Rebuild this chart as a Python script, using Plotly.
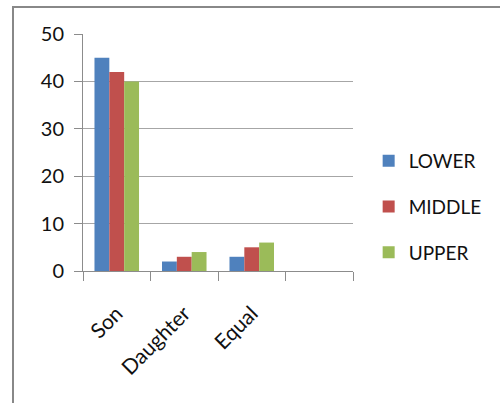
import plotly.graph_objects as go

# Survey answers by social class
categories = ["Son", "Daughter", "Equal", " "]
lower = [45, 2, 3, None]
middle = [42, 3, 5, None]
upper = [40, 4, 6, None]

series = [
    ("LOWER", lower, "#4F81BD"),
    ("MIDDLE", middle, "#C0504D"),
    ("UPPER", upper, "#9BBB59"),
]

W, H = 500, 403
ML, MR, MT, MB = 83, 147, 34, 132
pw, ph = W - ML - MR, H - MT - MB

fig = go.Figure()
for name, vals, color in series:
    fig.add_trace(go.Bar(
        x=categories, y=vals, name=name,
        marker=dict(color=color, line=dict(width=0)),
        legendgroup=name,
    ))

axis_color = "#8c8c8c"
font_family = "Lato, Open Sans, sans-serif"
text_color = "#111111"

fig.update_layout(
    width=W, height=H,
    margin=dict(l=ML, r=MR, t=MT, b=MB),
    paper_bgcolor="white", plot_bgcolor="white",
    barmode="group", bargap=0.34, bargroupgap=0,
    font=dict(family=font_family, color=text_color),
    legend=dict(
        x=1.058, y=0.27, xanchor="left", yanchor="middle",
        font=dict(size=19, color=text_color),
        traceorder="grouped", tracegroupgap=18,
        itemwidth=30,
    ),
    xaxis=dict(
        type="category", categoryorder="array", categoryarray=categories,
        range=[-0.5, 3.5],
        tickson="boundaries", ticks="outside", ticklen=9, tickcolor=axis_color,
        showline=True, linecolor=axis_color, linewidth=1,
        tickangle=-45, tickfont=dict(size=21, color=text_color),
        ticklabelstandoff=21,
        showgrid=False,
    ),
    yaxis=dict(
        range=[0, 50], dtick=10, tickmode="linear",
        ticks="outside", ticklen=8, tickcolor=axis_color,
        showline=True, linecolor=axis_color, linewidth=1,
        gridcolor="#a6a6a6", gridwidth=1,
        tickfont=dict(size=20, color=text_color),
        ticklabelstandoff=6,
        zeroline=False,
    ),
    shapes=[
        # outer chart frame
        dict(type="rect", xref="paper", yref="paper",
             x0=(13 - ML) / pw, x1=(W + 20 - ML) / pw,
             y0=-(H - MT - ph + 20) / ph, y1=1 + (MT - 7) / ph,
             line=dict(color="#888888", width=2), layer="below"),
    ],
)

fig.write_html("out.html")
